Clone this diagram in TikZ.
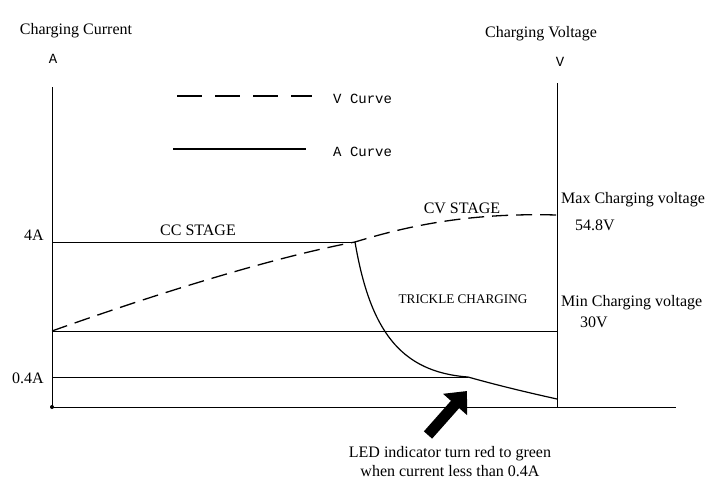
\documentclass[tikz,border=0pt]{standalone}
\usepackage{fontspec}
\setmainfont{Liberation Serif}
\newfontfamily\monofont{Liberation Mono}
\usetikzlibrary{arrows.meta}
\tikzset{
  txt/.style={font=\fontsize{16}{19}\selectfont, inner sep=0pt, anchor=base},
  mtxt/.style={font=\monofont\fontsize{14}{16}\selectfont, inner sep=0pt, anchor=base},
  axisline/.style={line width=0.9pt},
  levelline/.style={line width=0.9pt},
  vcurve/.style={line width=1.3pt, dash pattern=on 16pt off 8pt},
  acurve/.style={line width=1.2pt},
}
\begin{document}
\begin{tikzpicture}[x=1pt,y=-1pt]
\useasboundingbox (0,0) rectangle (713,485);
% 坐标点
\coordinate (O) at (52,407);
\coordinate (Atop) at (52,87);
\coordinate (Xend) at (676,407);
\coordinate (Vtop) at (557,83);
\coordinate (Vbot) at (557,407);
\coordinate (I4) at (52,242);
\coordinate (knee) at (355,242);
\coordinate (Vmin) at (52,331);
\coordinate (Vmin2) at (557,331);
\coordinate (I04) at (52,377);
\coordinate (I04b) at (468,377);
\coordinate (Aend) at (557,399);
\coordinate (Vmax) at (557,215);
% 坐标轴
\draw[axisline] (Atop) -- (O) -- (Xend);
\draw[axisline] (Vtop) -- (Vbot);
\fill (O) circle (2);
% 水平线
\draw[levelline] (I4) -- (knee);
\draw[levelline] (Vmin) -- (Vmin2);
\draw[levelline] (I04) -- (I04b);
% 电压曲线
\draw[vcurve] (Vmin) .. controls (150,296) and (270,258) .. (knee)
  .. controls (420,222) and (480,213) .. (Vmax);
% 电流曲线
\draw[acurve] (knee) .. controls (370,330) and (400,372) .. (I04b)
  .. controls (500,386) and (530,393) .. (Aend);
% 图例
\coordinate (Lv1) at (177,96);
\coordinate (Lv2) at (312,96);
\coordinate (La1) at (173,149);
\coordinate (La2) at (306,149);
\draw[line width=1.3pt, dash pattern=on 25pt off 13pt] (Lv1) -- (Lv2);
\draw[line width=1.3pt] (La1) -- (La2);
\node[mtxt, anchor=base west] (vleg) at (333,103) {V Curve};
\node[mtxt, anchor=base west] (aleg) at (333,156) {A Curve};
% 轴标题
\node[txt] (curtitle) at (76,34) {Charging Current};
\node[mtxt] (aunit) at (53,63) {A};
\node[txt] (voltitle) at (541,37) {Charging Voltage};
\node[mtxt] (vunit) at (560,66) {V};
% 刻度
\node[txt, anchor=base east] (l4a) at (44,240) {4A};
\node[txt, anchor=base east] (l04a) at (44,383) {0.4A};
% 阶段
\node[txt] (cc) at (198,235) {CC STAGE};
\node[txt] (cv) at (462,213) {CV STAGE};
\node[txt, font=\fontsize{13.2}{16}\selectfont] (trickle) at (463,303) {TRICKLE CHARGING};
% 电压值
\node[txt, anchor=base west] (maxv) at (561,203) {Max Charging voltage};
\node[txt, anchor=base west] (maxval) at (575,230) {54.8V};
\node[txt, anchor=base west] (minv) at (561,306) {Min Charging voltage};
\node[txt, anchor=base west] (minval) at (580,327) {30V};
% LED 提示
\node[txt, align=center] (led) at (450,476) {LED indicator turn red to green\\when current less than 0.4A};
\coordinate (ledTail) at (428,435);
\coordinate (ledTip) at (467,391);
\draw[line width=11pt, -{Triangle[length=18pt,width=31pt]}] (ledTail) -- (ledTip);
\end{tikzpicture}
\end{document}
